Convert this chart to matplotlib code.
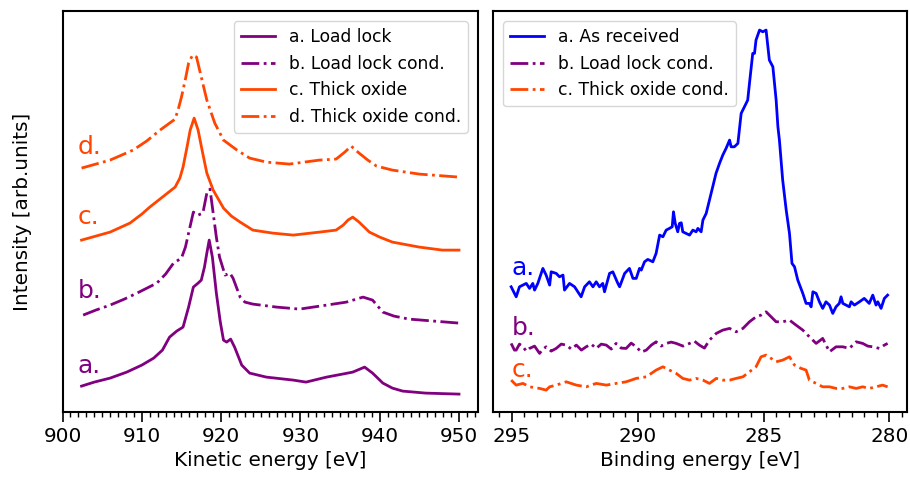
import matplotlib
matplotlib.use("Agg")
import matplotlib.pyplot as plt
from matplotlib.ticker import MultipleLocator

plt.rcParams['font.family'] = ['DejaVu Sans']

PURPLE = '#800080'
ORANGE = '#FF4500'
BLUE = '#0000FF'

# ---------------- Left panel data (kinetic energy) ----------------
ke_a = [902.4, 904.0, 906.0, 908.1, 910.0, 911.5, 912.6, 913.5, 914.4, 915.2, 915.9, 916.5,
        917.1, 917.5, 917.9, 918.2, 918.5, 918.9, 919.4, 919.9, 920.3, 920.7, 921.2, 921.7,
        922.2, 922.6, 923.6, 925.7, 929.1, 930.7, 933.3, 935.3, 936.6, 938.1, 939.1, 940.4,
        941.6, 942.9, 945.8, 950.0]
int_a = [26, 30, 34, 40, 47, 54, 62, 75, 81, 85, 105, 125,
         129, 132, 145, 159, 172, 155, 119, 90, 72, 70, 73, 65,
         55, 47, 39, 35, 32, 30, 35, 38, 40, 45, 39, 29,
         24, 21, 19, 18]

ke_b = [902.6, 904.2, 906.0, 907.8, 909.4, 911.9, 913.0, 914.0, 915.0, 915.5, 915.9, 916.5,
        917.1, 917.7, 918.2, 918.6, 919.0, 919.4, 919.8, 920.5, 921.1, 921.5, 922.4, 923.0,
        924.0, 927.0, 929.9, 933.3, 935.8, 937.9, 939.1, 940.4, 941.8, 943.7, 950.0]
int_b = [97, 102, 107, 113, 119, 129, 138, 149, 154, 165, 179, 200,
         197, 199, 219, 223, 199, 175, 155, 137, 139, 134, 115, 110,
         108, 105, 103, 107, 110, 115, 112, 100, 96, 93, 89]

ke_c = [902.4, 904.2, 906.0, 908.5, 910.0, 911.0, 912.6, 914.2, 914.8, 915.2, 915.7, 916.1,
        916.6, 917.1, 917.6, 918.2, 919.0, 920.3, 921.3, 922.4, 924.0, 926.5, 929.1, 932.4,
        934.5, 935.4, 936.0, 936.6, 937.4, 938.7, 940.0, 941.6, 945.0, 947.9, 950.0]
int_c = [172, 176, 180, 189, 198, 205, 215, 225, 234, 245, 265, 282,
         294, 282, 262, 239, 222, 204, 196, 190, 182, 179, 177, 180,
         182, 187, 192, 195, 190, 180, 175, 170, 165, 162, 162]

ke_d = [902.4, 904.2, 906.0, 908.9, 910.6, 912.3, 914.2, 914.6, 915.0, 915.5, 915.9, 916.4,
        916.9, 917.5, 918.2, 919.2, 920.3, 922.0, 923.6, 925.7, 928.6, 932.4, 934.5, 935.6,
        936.4, 937.4, 938.5, 939.6, 941.6, 945.0, 950.0]
int_d = [244, 248, 252, 262, 271, 282, 293, 303, 315, 333, 349, 357,
         355, 335, 312, 289, 272, 262, 254, 250, 248, 252, 253, 260,
         266, 259, 252, 246, 242, 238, 235]

left_labels = ['a. Load lock', 'b. Load lock cond.', 'c. Thick oxide', 'd. Thick oxide cond.']

# ---------------- Right panel data (binding energy) ----------------
be_a = [295.03, 294.83, 294.70, 294.43, 294.30, 294.17, 294.10, 293.97, 293.77, 293.64,
        293.50, 293.44, 293.24, 293.11, 292.97, 292.91, 292.71, 292.51, 292.25, 292.11,
        291.92, 291.78, 291.65, 291.52, 291.39, 291.32, 291.12, 290.99, 290.79, 290.72,
        290.52, 290.33, 290.19, 290.06, 289.93, 289.86, 289.73, 289.60, 289.40, 289.27,
        289.13, 289.00, 288.87, 288.74, 288.63, 288.58, 288.51, 288.41, 288.34, 288.27,
        288.21, 288.08, 287.94, 287.81, 287.68, 287.61, 287.48, 287.41, 287.28, 287.15,
        287.02, 286.89, 286.75, 286.62, 286.49, 286.35, 286.29, 286.16, 286.02, 285.89,
        285.76, 285.63, 285.56, 285.43, 285.36, 285.30, 285.16, 285.03, 284.90, 284.77,
        284.63, 284.50, 284.43, 284.37, 284.24, 284.10, 283.97, 283.87, 283.77, 283.64,
        283.44, 283.31, 283.18, 283.11, 283.04, 282.91, 282.78, 282.65, 282.52, 282.38,
        282.25, 282.12, 281.99, 281.92, 281.85, 281.72, 281.59, 281.52, 281.39, 281.19,
        281.00, 280.80, 280.66, 280.53, 280.46, 280.33, 280.20, 280.07]
int_ra = [125.3, 115.3, 125.3, 128.7, 123.7, 128.7, 122.0, 128.7, 143.7, 137.0,
          127.0, 140.3, 138.7, 135.3, 137.0, 122.0, 128.7, 125.3, 115.3, 125.3,
          130.3, 125.3, 130.3, 125.3, 128.7, 120.3, 138.7, 140.3, 128.7, 125.3,
          138.7, 143.7, 133.7, 133.7, 143.7, 142.0, 150.3, 152.7, 150.3, 158.7,
          177.0, 175.3, 182.0, 183.7, 185.3, 200.3, 188.7, 180.3, 188.7, 189.3,
          180.3, 178.7, 177.0, 182.0, 180.3, 183.7, 180.3, 192.0, 198.7, 212.0,
          225.3, 238.7, 248.7, 257.0, 263.7, 272.0, 265.3, 265.3, 268.7, 298.7,
          305.3, 312.0, 328.7, 358.7, 358.7, 372.0, 382.0, 380.3, 382.0, 352.0,
          345.3, 312.0, 285.3, 272.0, 232.0, 202.0, 178.7, 148.7, 145.3, 132.0,
          118.7, 108.7, 108.7, 105.3, 120.3, 118.7, 110.3, 103.7, 110.3, 107.0,
          98.7, 105.3, 108.7, 115.3, 108.7, 107.0, 105.3, 110.3, 107.0, 110.3,
          113.7, 108.7, 117.0, 107.0, 110.3, 103.7, 113.7, 117.0]

be_b = [295.03, 294.90, 294.83, 294.70, 294.56, 294.43, 294.30, 294.10, 293.90, 293.77,
        293.64, 293.44, 293.24, 293.04, 292.84, 292.64, 292.44, 292.24, 292.05, 291.85,
        291.65, 291.45, 291.25, 291.05, 290.86, 290.66, 290.46, 290.26, 290.06, 289.86,
        289.66, 289.46, 289.27, 289.07, 288.87, 288.67, 288.47, 288.20, 287.94, 287.75,
        287.55, 287.35, 287.15, 286.88, 286.62, 286.35, 286.09, 285.82, 285.56, 285.30,
        285.10, 284.90, 284.70, 284.50, 284.24, 283.97, 283.71, 283.44, 283.18, 282.91,
        282.65, 282.38, 282.12, 281.85, 281.59, 281.32, 281.06, 280.86, 280.66, 280.40,
        280.20, 280.07]
int_rb = [68.7, 62.0, 62.0, 68.0, 65.3, 61.0, 63.7, 66.0, 58.7, 63.0,
          65.3, 61.0, 63.7, 68.0, 67.0, 63.0, 67.0, 62.0, 65.3, 68.0,
          63.7, 68.0, 67.0, 63.0, 68.7, 64.0, 63.7, 69.0, 65.3, 60.0,
          62.0, 67.0, 70.3, 66.0, 68.7, 70.0, 68.7, 66.0, 68.7, 71.0,
          67.0, 64.0, 72.0, 78.7, 82.0, 83.7, 80.3, 83.7, 90.3, 95.3,
          97.0, 100.3, 95.3, 90.3, 90.3, 92.0, 87.0, 82.0, 75.3, 68.7,
          73.7, 60.3, 65.3, 65.3, 63.7, 70.3, 68.7, 66.0, 65.3, 63.7,
          67.0, 68.7]

be_c = [295.03, 294.83, 294.56, 294.30, 293.90, 293.64, 293.50, 293.24, 292.84, 292.44,
        292.05, 291.65, 291.25, 290.86, 290.46, 290.06, 289.66, 289.27, 289.00, 288.74,
        288.47, 288.21, 287.94, 287.68, 287.41, 287.15, 286.88, 286.62, 286.35, 286.09,
        285.82, 285.56, 285.30, 285.10, 284.90, 284.70, 284.50, 284.24, 283.97, 283.77,
        283.51, 283.31, 283.18, 282.91, 282.65, 282.38, 282.12, 281.85, 281.59, 281.32,
        281.06, 280.80, 280.53, 280.27, 280.07]
int_rc = [32.0, 27.0, 28.7, 25.3, 23.7, 22.0, 25.3, 27.0, 30.3, 27.0,
          25.3, 28.7, 27.0, 28.7, 30.3, 33.7, 35.3, 42.0, 45.3, 42.0,
          38.7, 33.7, 32.0, 33.7, 32.0, 28.7, 33.7, 32.0, 32.0, 33.7,
          35.3, 40.3, 45.3, 55.3, 57.0, 53.7, 50.3, 52.0, 55.3, 47.0,
          43.7, 42.0, 32.0, 28.7, 25.3, 25.3, 23.7, 23.7, 25.3, 23.7,
          25.3, 23.7, 25.3, 27.0, 25.3]

right_labels = ['a. As received', 'b. Load lock cond.', 'c. Thick oxide cond.']

# ---------------- Figure ----------------
fig = plt.figure(figsize=(9.10, 4.82), dpi=100)
ax1 = fig.add_axes([0.0687, 0.145, 0.4566, 0.832])
ax2 = fig.add_axes([0.5418, 0.145, 0.4549, 0.832])

LW = 2.0
ax1.plot(ke_a, int_a, color=PURPLE, lw=LW, ls='-', label=left_labels[0])
ax1.plot(ke_b, int_b, color=PURPLE, lw=LW, ls='-.', label=left_labels[1])
ax1.plot(ke_c, int_c, color=ORANGE, lw=LW, ls='-', label=left_labels[2])
ax1.plot(ke_d, int_d, color=ORANGE, lw=LW, ls='-.', label=left_labels[3])

ax2.plot(be_a, int_ra, color=BLUE, lw=LW, ls='-', label=right_labels[0])
ax2.plot(be_b, int_rb, color=PURPLE, lw=LW, ls='-.', label=right_labels[1])
ax2.plot(be_c, int_rc, color=ORANGE, lw=LW, ls='-.', label=right_labels[2])

lab_fs = 18
ax1.text(901.9, 39, 'a.', color=PURPLE, fontsize=lab_fs, va='baseline')
ax1.text(901.9, 114, 'b.', color=PURPLE, fontsize=lab_fs, va='baseline')
ax1.text(901.9, 188, 'c.', color=ORANGE, fontsize=lab_fs, va='baseline')
ax1.text(901.9, 258, 'd.', color=ORANGE, fontsize=lab_fs, va='baseline')

ax2.text(295.0, 137, 'a.', color=BLUE, fontsize=lab_fs, va='baseline')
ax2.text(295.0, 77, 'b.', color=PURPLE, fontsize=lab_fs, va='baseline')
ax2.text(295.0, 35, 'c.', color=ORANGE, fontsize=lab_fs, va='baseline')

ax1.set_ylim(0, 401)
ax2.set_ylim(0, 401)
ax1.set_xlim(900.0, 952.4)
ax2.set_xlim(295.75, 279.3)

ax1.xaxis.set_major_locator(MultipleLocator(10))
ax1.xaxis.set_minor_locator(MultipleLocator(1))
ax2.xaxis.set_major_locator(MultipleLocator(5))
ax2.xaxis.set_minor_locator(MultipleLocator(0.5))

for ax in (ax1, ax2):
    ax.set_yticks([])
    ax.tick_params(axis='x', which='major', length=7, width=1.2, labelsize=14.4)
    ax.tick_params(axis='x', which='minor', length=3.8, width=1.0)
    for s in ax.spines.values():
        s.set_linewidth(1.5)

ax1.set_xlabel('Kinetic energy [eV]', fontsize=14.4)
ax2.set_xlabel('Binding energy [eV]', fontsize=14.4)
ax1.set_ylabel('Intensity [arb.units]', fontsize=14.4, labelpad=22)

ax1.legend(loc='upper right', fontsize=12.3, handlelength=2.0, borderaxespad=0.6)
ax2.legend(loc='upper left', fontsize=12.3, handlelength=2.0, borderaxespad=0.6)

fig.savefig('out.png', dpi=100)
